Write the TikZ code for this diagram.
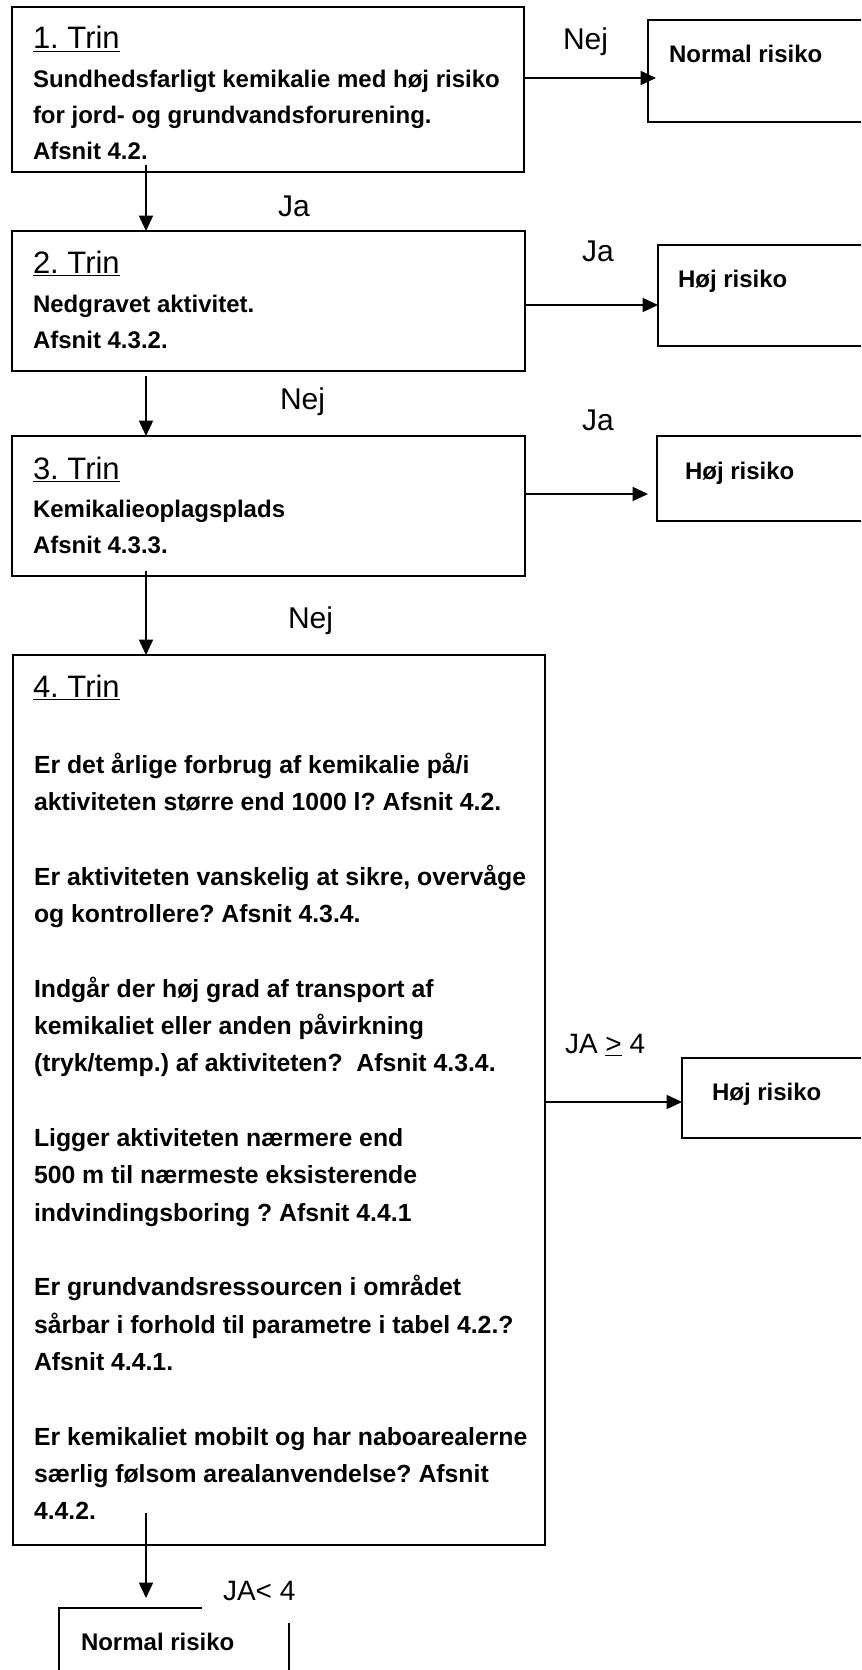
\documentclass[tikz,border=0pt]{standalone}
\usepackage{fontspec}
\setmainfont{Liberation Sans}
\usetikzlibrary{arrows.meta}
\frenchspacing
\newcommand{\mylines}[1]{\begin{tabular}[t]{@{}l@{}}#1\end{tabular}}
\begin{document}
\begin{tikzpicture}[x=0.75pt,y=-0.75pt,
  boxnode/.style={draw, line width=1.3pt, rectangle, inner sep=0pt, outer sep=0pt, anchor=north west},
  txt/.style={inner sep=0pt, outer sep=0pt, anchor=base west},
  ttl/.style={txt, font=\fontsize{23.25pt}{28pt}\selectfont},
  bodytxt/.style={txt, font=\fontsize{18pt}{27pt}\selectfont\bfseries},
  bodyfour/.style={txt, font=\fontsize{18.6pt}{28pt}\selectfont\bfseries},
  lbl/.style={txt, font=\fontsize{22.5pt}{27pt}\selectfont},
  jalbl/.style={txt, font=\fontsize{21pt}{25pt}\selectfont},
  arr/.style={line width=1.2pt, -{Triangle[length=11.5pt,width=10.5pt]}},
]
\useasboundingbox (0,0) rectangle (861,1670);
\clip (0,0) rectangle (861,1670);

% main boxes
\node[boxnode, minimum width={512*0.75pt}, minimum height={165*0.75pt}] (b1) at (12,7) {};
\node[boxnode, minimum width={513*0.75pt}, minimum height={140*0.75pt}] (b2) at (12,231) {};
\node[boxnode, minimum width={513*0.75pt}, minimum height={140*0.75pt}] (b3) at (12,436) {};
\node[boxnode, minimum width={532*0.75pt}, minimum height={890*0.75pt}] (b4) at (13,655) {};

% result boxes
\node[boxnode, minimum width={260*0.75pt}, minimum height={102*0.75pt}] (r1) at (648,20) {};
\node[boxnode, minimum width={250*0.75pt}, minimum height={101*0.75pt}] (r2) at (658,245) {};
\node[boxnode, minimum width={250*0.75pt}, minimum height={85*0.75pt}] (r3) at (657,436) {};
\node[boxnode, minimum width={230*0.75pt}, minimum height={80*0.75pt}] (r4) at (682,1058) {};
\node[boxnode, minimum width={230*0.75pt}, minimum height={120*0.75pt}] (r5) at (59,1608) {};

% texts in main boxes
\node[ttl] (t1) at (33,49) {\underline{1. Trin}};
\node[bodytxt] (x1) at (33,88) {\mylines{Sundhedsfarligt kemikalie med høj risiko\\for jord- og grundvandsforurening.\\Afsnit 4.2.}};
\node[ttl] (t2) at (33,273) {\underline{2. Trin}};
\node[bodytxt] (x2) at (33,312) {\mylines{Nedgravet aktivitet.\\Afsnit 4.3.2.}};
\node[ttl] (t3) at (33,479) {\underline{3. Trin}};
\node[bodytxt] (x3) at (33,517) {\mylines{Kemikalieoplagsplads\\Afsnit 4.3.3.}};
\node[ttl] (t4) at (33,697) {\underline{4. Trin}};
\node[bodyfour] (x4) at (34,773) {\mylines{Er det årlige forbrug af kemikalie på/i\\aktiviteten større end 1000 l? Afsnit 4.2.\\ \\Er aktiviteten vanskelig at sikre, overvåge\\og kontrollere? Afsnit 4.3.4.\\ \\Indgår der høj grad af transport af\\kemikaliet eller anden påvirkning\\(tryk/temp.) af aktiviteten?~~Afsnit 4.3.4.\\ \\Ligger aktiviteten nærmere end\\500 m til nærmeste eksisterende\\indvindingsboring ? Afsnit 4.4.1\\ \\Er grundvandsressourcen i området\\sårbar i forhold til parametre i tabel 4.2.?\\Afsnit 4.4.1.\\ \\Er kemikaliet mobilt og har naboarealerne\\særlig følsom arealanvendelse? Afsnit\\4.4.2.}};

% texts in result boxes
\node[bodytxt] (y1) at (669,63) {Normal risiko};
\node[bodytxt] (y2) at (678,287) {Høj risiko};
\node[bodytxt] (y3) at (685,479) {Høj risiko};
\node[bodytxt] (y4) at (712,1100) {Høj risiko};
\node[bodytxt] (y5) at (81,1650) {Normal risiko};

% connectors
\coordinate (a1s) at (524,78);
\draw[arr, shorten >=-6pt] (a1s) -- (a1s -| r1.west);
\coordinate (a2s) at (525,305);
\draw[arr] (a2s) -- (a2s -| r2.west);
\coordinate (a3s) at (525,494);
\draw[arr, shorten >=6.75pt] (a3s) -- (a3s -| r3.west);
\coordinate (a4s) at (545,1102);
\draw[arr] (a4s) -- (a4s -| r4.west);
\coordinate (v1s) at (146,165);
\draw[arr] (v1s) -- (v1s |- b2.north);
\coordinate (v2s) at (146,376);
\draw[arr] (v2s) -- (v2s |- b3.north);
\coordinate (v3s) at (146,571);
\draw[arr] (v3s) -- (v3s |- b4.north);
\coordinate (v4s) at (146,1513);
\draw[arr, shorten >=7.5pt] (v4s) -- (v4s |- r5.north);

% connector labels
\node[lbl] (l1) at (563,50) {Nej};
\node[lbl] (l2) at (278,216) {Ja};
\node[lbl] (l3) at (582,261) {Ja};
\node[lbl] (l4) at (280,409) {Nej};
\node[lbl] (l5) at (582,430) {Ja};
\node[lbl] (l6) at (288,628) {Nej};
\node[jalbl] (l7) at (565,1053) {JA \underline{>} 4};
\node[jalbl, fill=white, inner xsep=15.75pt, inner ysep=17.25pt] (l8) at (202,1600) {JA< 4};
\end{tikzpicture}
\end{document}
